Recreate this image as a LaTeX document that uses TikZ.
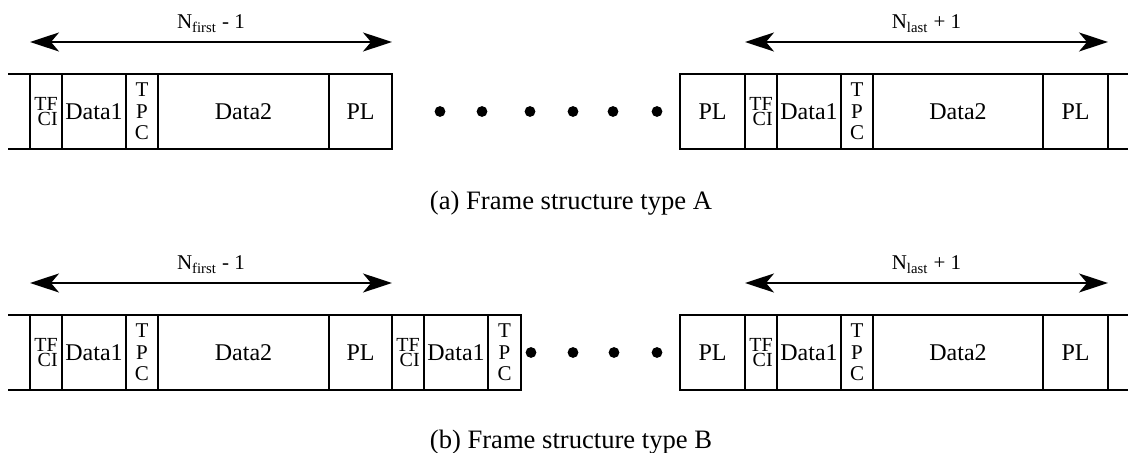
\documentclass[tikz,border=0pt]{standalone}
\usepackage{fontspec}
\setmainfont{Liberation Serif}
\usetikzlibrary{positioning,arrows.meta}

\begin{document}
\begin{tikzpicture}[x=0.5pt,y=-0.5pt,
        field/.style={draw, line width=1pt, minimum height=37.5pt, inner sep=0pt, outer sep=0pt,
          font=\fontsize{12}{13}\selectfont},
        tfci/.style={field, minimum width=16pt, align=right, font=\fontsize{10}{7.6}\selectfont},
        tpc/.style={field, minimum width=16pt, align=center, font=\fontsize{10.5}{10.75}\selectfont},
        span/.style={line width=1pt,
          {Stealth[length=14.5pt,width=9.5pt,inset=4pt]}-{Stealth[length=14.5pt,width=9.5pt,inset=4pt]}},
        numlabel/.style={font=\fontsize{10.5}{12}\selectfont, anchor=base, yshift=6.5pt},
        capt/.style={font=\fontsize{13.3}{16}\selectfont, anchor=base}]
  \useasboundingbox (0,0) rectangle (1128,453);

  % (a)
  \node[tfci, anchor=west] (aL1) at (30,111.5) {TF\\CI};
  \node[field, minimum width=32pt, right=0pt of aL1] (aL2) {Data1};
  \node[tpc, right=0pt of aL2] (aL3) {T\\P\\C};
  \node[field, minimum width=85.5pt, right=0pt of aL3] (aL4) {Data2};
  \node[field, minimum width=31.5pt, right=0pt of aL4] (aL5) {PL};
  \draw[line width=1pt] ([xshift=-11pt]aL1.north west) -- (aL1.north west)
    ([xshift=-11pt]aL1.south west) -- (aL1.south west);

  \foreach \x in {440,482,530,573,613,657}
    \fill (\x,111.5) circle[radius=2.7pt];

  \node[field, minimum width=32.5pt, anchor=west] (aR1) at (680,111.5) {PL};
  \node[tfci, right=0pt of aR1] (aR2) {TF\\CI};
  \node[field, minimum width=32pt, right=0pt of aR2] (aR3) {Data1};
  \node[tpc, right=0pt of aR3] (aR4) {T\\P\\C};
  \node[field, minimum width=85pt, right=0pt of aR4] (aR5) {Data2};
  \node[field, minimum width=32.5pt, right=0pt of aR5] (aR6) {PL};
  \draw[line width=1pt] (aR6.north east) -- ([xshift=10pt]aR6.north east)
    (aR6.south east) -- ([xshift=10pt]aR6.south east);

  \draw[span] ([yshift=16pt]aL1.north west) -- node[numlabel] {N\textsubscript{first} - 1} ([yshift=16pt]aL5.north east);
  \draw[span] ([yshift=16pt]aR2.north west) -- node[numlabel] {N\textsubscript{last} + 1} ([yshift=16pt]aR6.north east);

  \node[capt] (capA) at (571,210) {(a) Frame structure type A};

  % (b)
  \node[tfci, anchor=west] (bL1) at (30,352.5) {TF\\CI};
  \node[field, minimum width=32pt, right=0pt of bL1] (bL2) {Data1};
  \node[tpc, right=0pt of bL2] (bL3) {T\\P\\C};
  \node[field, minimum width=85.5pt, right=0pt of bL3] (bL4) {Data2};
  \node[field, minimum width=31.5pt, right=0pt of bL4] (bL5) {PL};
  \node[tfci, right=0pt of bL5] (bL6) {TF\\CI};
  \node[field, minimum width=32pt, right=0pt of bL6] (bL7) {Data1};
  \node[tpc, minimum width=16.5pt, right=0pt of bL7] (bL8) {T\\P\\C};
  \draw[line width=1pt] ([xshift=-11pt]bL1.north west) -- (bL1.north west)
    ([xshift=-11pt]bL1.south west) -- (bL1.south west);

  \foreach \x in {531,573,614,657}
    \fill (\x,352.5) circle[radius=2.7pt];

  \node[field, minimum width=32.5pt, anchor=west] (bR1) at (680,352.5) {PL};
  \node[tfci, right=0pt of bR1] (bR2) {TF\\CI};
  \node[field, minimum width=32pt, right=0pt of bR2] (bR3) {Data1};
  \node[tpc, right=0pt of bR3] (bR4) {T\\P\\C};
  \node[field, minimum width=85pt, right=0pt of bR4] (bR5) {Data2};
  \node[field, minimum width=32.5pt, right=0pt of bR5] (bR6) {PL};
  \draw[line width=1pt] (bR6.north east) -- ([xshift=10pt]bR6.north east)
    (bR6.south east) -- ([xshift=10pt]bR6.south east);

  \draw[span] ([yshift=16pt]bL1.north west) -- node[numlabel] {N\textsubscript{first} - 1} ([yshift=16pt]bL5.north east);
  \draw[span] ([yshift=16pt]bR2.north west) -- node[numlabel] {N\textsubscript{last} + 1} ([yshift=16pt]bR6.north east);

  \node[capt] (capB) at (571,449) {(b) Frame structure type B};
\end{tikzpicture}
\end{document}
